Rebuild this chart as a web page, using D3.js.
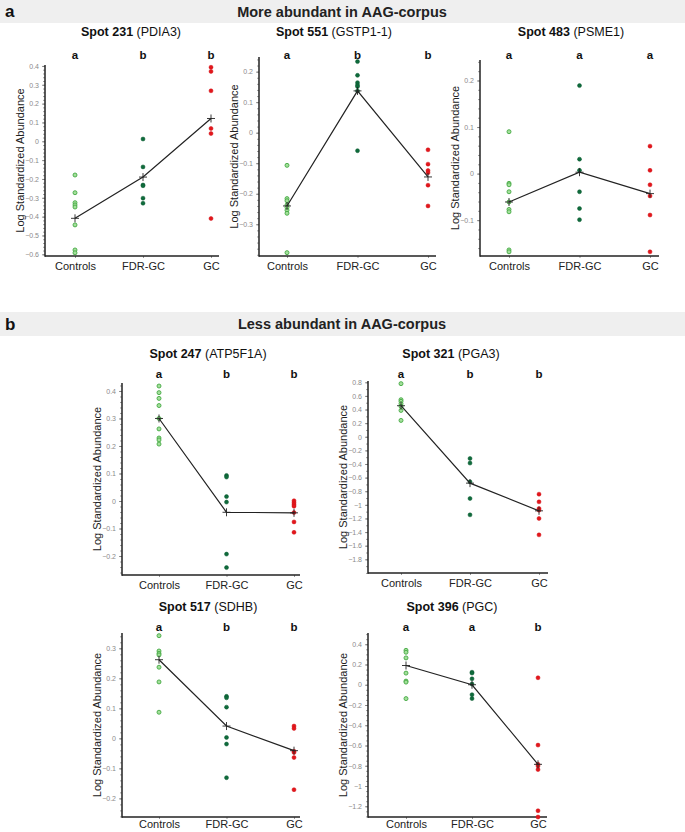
<!DOCTYPE html>
<html><head><meta charset="utf-8">
<script src="https://cdn.jsdelivr.net/npm/d3@7/dist/d3.min.js"></script>
<style>
body{margin:0;background:#fff;}
svg{display:block;font-family:"Liberation Sans",Arial,sans-serif;}
</style></head>
<body>
<svg id="chart" width="685" height="832"></svg>
<script>
// ---------- DATA ----------
const groups = ["Controls", "FDR-GC", "GC"];
const sectionTitles = ["More abundant in AAG-corpus", "Less abundant in AAG-corpus"];
const sectionLetters = ["a", "b"];
const spotIds = ["Spot 231", "Spot 551", "Spot 483", "Spot 247", "Spot 321", "Spot 517", "Spot 396"];
const proteins = ["(PDIA3)", "(GSTP1-1)", "(PSME1)", "(ATP5F1A)", "(PGA3)", "(SDHB)", "(PGC)"];
const sigLetters = [["a","b","b"],["a","b","b"],["a","a","a"],["a","b","b"],["a","b","b"],["a","b","b"],["a","a","b"]];

const spot231Values = [[-0.179,-0.273,-0.326,-0.338,-0.349,-0.444,-0.577,-0.592],
                       [0.012,-0.136,-0.232,-0.236,-0.302,-0.329],
                       [0.393,0.371,0.268,0.068,0.041,-0.41]];
const spot231Means = [-0.409, -0.19, 0.121];
const spot231Ticks = [0.4,0.3,0.2,0.1,0,-0.1,-0.2,-0.3,-0.4,-0.5,-0.6];

const spot551Values = [[-0.107,-0.216,-0.223,-0.237,-0.245,-0.254,-0.264,-0.393],
                       [0.233,0.188,0.164,0.156,0.151,0.137,-0.059],
                       [-0.056,-0.103,-0.124,-0.131,-0.172,-0.24]];
const spot551Means = [-0.24, 0.137, -0.145];
const spot551Ticks = [0.2,0.1,0,-0.1,-0.2,-0.3];

const spot483Values = [[0.09,-0.021,-0.024,-0.039,-0.061,-0.077,-0.082,-0.164,-0.168],
                       [0.189,0.031,0.007,-0.039,-0.075,-0.099],
                       [0.059,0.007,-0.024,-0.048,-0.089,-0.168]];
const spot483Means = [-0.061, 0.003, -0.043];
const spot483Ticks = [0.2,0.1,0,-0.1];

const spot247Values = [[0.418,0.394,0.373,0.347,0.3,0.262,0.229,0.222,0.207],
                       [0.093,0.087,0.016,-0.004,-0.193,-0.242],
                       [0.001,-0.006,-0.013,-0.019,-0.042,-0.076,-0.114]];
const spot247Means = [0.30, -0.041, -0.043];
const spot247Ticks = [0.4,0.3,0.2,0.1,0,-0.1,-0.2];

const spot321Values = [[0.78,0.544,0.52,0.485,0.446,0.387,0.24],
                       [-0.319,-0.387,-0.662,-0.907,-1.147],
                       [-0.843,-0.956,-1.054,-1.078,-1.2,-1.441]];
const spot321Means = [0.456, -0.681, -1.088];
const spot321Ticks = [0.8,0.6,0.4,0.2,0,-0.2,-0.4,-0.6,-0.8,-1,-1.2,-1.4,-1.6,-1.8];

const spot517Values = [[0.342,0.291,0.283,0.278,0.237,0.188,0.087],
                       [0.14,0.135,0.104,0.003,-0.019,-0.131],
                       [0.041,0.033,-0.043,-0.047,-0.064,-0.171]];
const spot517Means = [0.262, 0.041, -0.041];
const spot517Ticks = [0.3,0.2,0.1,0,-0.1,-0.2];

const spot396Values = [[0.34,0.321,0.265,0.115,0.036,0.026,-0.137],
                       [0.124,0.115,0.059,0.007,-0.098,-0.137],
                       [0.069,-0.596,-0.786,-0.802,-0.838,-1.244,-1.306]];
const spot396Means = [0.19, 0.0, -0.786];
const spot396Ticks = [0.4,0.2,0,-0.2,-0.4,-0.6,-0.8,-1,-1.2];

const yDomains = [[-0.609,0.405],[-0.404,0.248],[-0.177,0.244],[-0.269,0.429],[-2.001,0.819],[-0.262,0.351],[-1.306,0.511]];

// ---------- LAYOUT ----------
const panels = [
  {vals: spot231Values, means: spot231Means, ticks: spot231Ticks, axX: 45,  top: 65,  bot: 256, right: 219, c0: 75,  c2: 211, titleX: 131, titleY: 36, letterY: 59, minor: 5, pad: 4},
  {vals: spot551Values, means: spot551Means, ticks: spot551Ticks, axX: 259, top: 57,  bot: 256, right: 436, c0: 287, c2: 428, titleX: 334, titleY: 36, letterY: 59, minor: 5, pad: 4},
  {vals: spot483Values, means: spot483Means, ticks: spot483Ticks, axX: 480, top: 60,  bot: 256, right: 659, c0: 509, c2: 650, titleX: 571, titleY: 36, letterY: 59, minor: 5, pad: 4},
  {vals: spot247Values, means: spot247Means, ticks: spot247Ticks, axX: 122, top: 383, bot: 575, right: 300, c0: 159, c2: 294, titleX: 208, titleY: 358, letterY: 378, minor: 5, pad: 4},
  {vals: spot321Values, means: spot321Means, ticks: spot321Ticks, axX: 368, top: 381, bot: 573, right: 548, c0: 401, c2: 539, titleX: 451, titleY: 358, letterY: 378, minor: 2, pad: 4},
  {vals: spot517Values, means: spot517Means, ticks: spot517Ticks, axX: 122, top: 633, bot: 817, right: 300, c0: 159, c2: 294, titleX: 208, titleY: 611, letterY: 631, minor: 5, pad: 1},
  {vals: spot396Values, means: spot396Means, ticks: spot396Ticks, axX: 368, top: 633, bot: 817, right: 547, c0: 406, c2: 538, titleX: 452, titleY: 611, letterY: 631, minor: 4, pad: 1}
];
const fills = ["#a3e09a", "#0f6b3c", "#e3161b"];
const strokes = ["#44a843", "#0b5a31", "#d01016"];

const svg = d3.select("#chart");

// section headers
const bands = [{y: 0, h: 23}, {y: 312, h: 24}];
bands.forEach((b, i) => {
  svg.append("rect").attr("x", 0).attr("y", b.y).attr("width", 685).attr("height", b.h).attr("fill", "#efefef");
  svg.append("text").attr("x", 5).attr("y", b.y + b.h/2 + 5.5).attr("font-size", 17).attr("font-weight", "bold").attr("fill", "#111").text(sectionLetters[i]);
  svg.append("text").attr("x", 342).attr("y", b.y + b.h/2 + 5).attr("text-anchor", "middle").attr("font-size", 14.5).attr("font-weight", "bold").attr("fill", "#222").text(sectionTitles[i]);
});

panels.forEach((p, i) => {
  const g = svg.append("g");
  const x = d3.scalePoint().domain(groups).range([p.c0, p.c2]);
  const y = d3.scaleLinear().domain(yDomains[i]).range([p.bot, p.top]);

  // title
  const t = g.append("text").attr("x", p.titleX).attr("y", p.titleY).attr("text-anchor", "middle").attr("font-size", 12.5).attr("fill", "#111");
  t.append("tspan").attr("font-weight", "bold").text(spotIds[i] + " ");
  t.append("tspan").text(proteins[i]);

  // significance letters
  g.selectAll(".sig").data(groups).join("text")
    .attr("x", d => x(d)).attr("y", p.letterY).attr("text-anchor", "middle")
    .attr("font-size", 11.5).attr("font-weight", "bold").attr("fill", "#111")
    .text((d, j) => sigLetters[i][j]);

  // y axis with minor ticks
  const step = p.ticks[0] - p.ticks[1];
  const minorTicks = d3.range(Math.ceil(yDomains[i][0] / (step / p.minor)), Math.floor(yDomains[i][1] / (step / p.minor)) + 1).map(k => k * step / p.minor);
  const yMinor = g.append("g").attr("transform", `translate(${p.axX},0)`)
    .call(d3.axisLeft(y).tickValues(minorTicks).tickSize(2).tickFormat(""));
  yMinor.select(".domain").remove();
  yMinor.selectAll("line").attr("stroke", "#777").attr("stroke-width", 0.7);

  const yAx = g.append("g").attr("transform", `translate(${p.axX},0)`)
    .call(d3.axisLeft(y).tickValues(p.ticks).tickSize(3).tickPadding(3).tickFormat(d => d3.format("")(Math.round(d * 10) / 10)));
  yAx.select(".domain").remove();
  yAx.selectAll("line").attr("stroke", "#777").attr("stroke-width", 0.8);
  yAx.selectAll("text").attr("font-size", 7).attr("fill", "#8a8a8a").attr("stroke", "none").attr("font-family", "'Liberation Sans',Arial,sans-serif");

  g.append("line").attr("x1", p.axX).attr("x2", p.axX).attr("y1", p.top).attr("y2", p.bot + 0.75).attr("stroke", "#222").attr("stroke-width", 1.5);

  // x axis
  const xAx = g.append("g").attr("transform", `translate(0,${p.bot})`)
    .call(d3.axisBottom(x).tickSize(2).tickPadding(p.pad));
  xAx.select(".domain").remove();
  xAx.selectAll("line").attr("stroke", "#999");
  xAx.selectAll("text").attr("font-size", 11).attr("fill", "#222").attr("font-family", "'Liberation Sans',Arial,sans-serif");
  g.append("line").attr("x1", p.axX).attr("x2", p.right).attr("y1", p.bot).attr("y2", p.bot).attr("stroke", "#222").attr("stroke-width", 1.5);

  // y axis title
  g.append("text").attr("transform", `translate(${p.axX - 21},${(p.top + p.bot) / 2}) rotate(-90)`)
    .attr("text-anchor", "middle").attr("font-size", 11).attr("fill", "#222").text("Log Standardized Abundance");

  // points
  groups.forEach((grp, j) => {
    g.selectAll(".pt" + j).data(p.vals[j]).join("circle")
      .attr("cx", x(grp)).attr("cy", d => y(d)).attr("r", 2)
      .attr("fill", fills[j]).attr("stroke", strokes[j]).attr("stroke-width", j === 0 ? 0.9 : 0.5);
  });

  // mean line
  const line = d3.line().x((d, j) => x(groups[j])).y(d => y(d));
  g.append("path").datum(p.means).attr("d", line).attr("fill", "none").attr("stroke", "#222").attr("stroke-width", 1.2);
  g.selectAll(".mean").data(p.means).join("path")
    .attr("d", (d, j) => { const cx = x(groups[j]), cy = y(d); return `M${cx-4},${cy}H${cx+4}M${cx},${cy-4}V${cy+4}`; })
    .attr("stroke", "#222").attr("stroke-width", 0.9);
});
</script>
</body></html>
